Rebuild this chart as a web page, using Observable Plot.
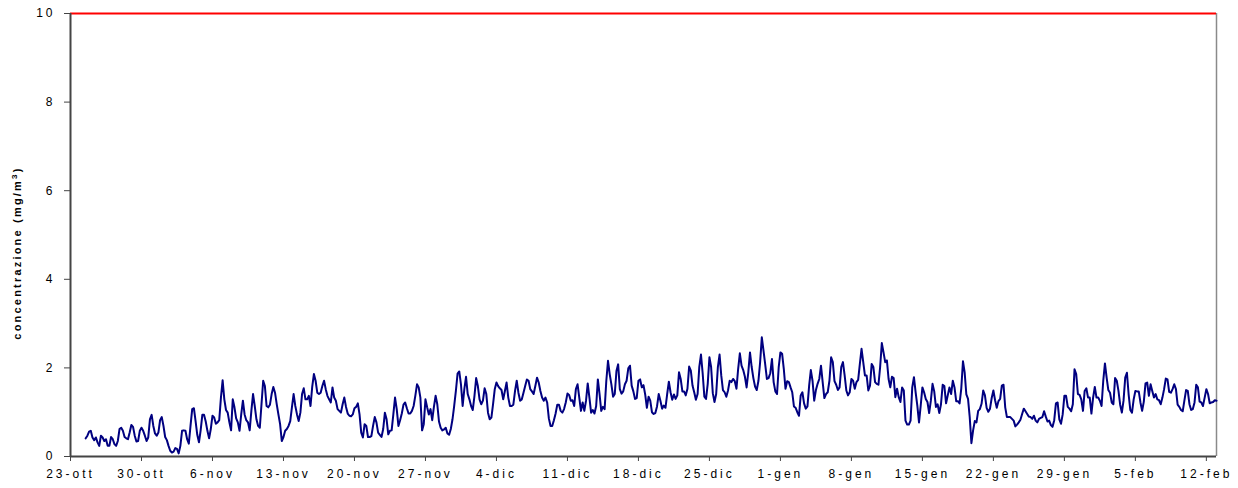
<!DOCTYPE html>
<html><head><meta charset="utf-8">
<script src="https://cdn.jsdelivr.net/npm/d3@7"></script>
<script src="https://cdn.jsdelivr.net/npm/@observablehq/plot@0.6"></script>
<style>
html,body{margin:0;padding:0;background:#fff;overflow:hidden;}
#chart svg{display:block;}
#chart svg text{letter-spacing:3px;}
</style>
</head><body><div id="chart"></div>
<script>
// ---- tick labels / axis values ----
const tickLabels = ["23-ott","30-ott","6-nov","13-nov","20-nov","27-nov","4-dic","11-dic","18-dic","25-dic","1-gen","8-gen","15-gen","22-gen","29-gen","5-feb","12-feb"];
const yTicks = [0, 2, 4, 6, 8, 10];
const limitValue = 10;           // red limit line (mg/m3)
const axisStartDate = "2006-10-23T00:00Z";
const axisEndDate = "2007-02-13T00:00Z";
const seriesStartDate = "2006-10-24T12:00Z";
const stepHours = 4;

// ---- concentration series, 4-hourly (mg/m3) ----
const concOtt = [0.41,0.47,0.56,0.58,0.43,0.37,0.43,0.32,0.24,0.47,
0.43,0.35,0.39,0.24,0.24,0.44,0.39,0.28,0.24,0.35,
0.62,0.65,0.58,0.44,0.41,0.39,0.54,0.71,0.67,0.47,
0.34,0.35,0.58,0.65,0.58,0.47,0.35,0.43,0.84,0.94,
0.69,0.52,0.47,0.54,0.82,0.89,0.69,0.44,0.37,0.24,
0.13,0.09,0.11,0.19,0.17,0.07,0.24,0.58,0.59,0.58,
0.39,0.29,0.69,1.07,1.09,0.80,0.49,0.32,0.59,0.94,
0.94,0.79,0.58,0.41];
const concNov1 = [0.62,0.92,0.88,0.74,0.77,0.82,1.33,1.72,1.29,1.05,
0.99,0.77,0.59,1.29,1.11,0.86,0.77,0.58,0.95,1.26,
0.95,0.82,0.77,0.59,1.03,1.41,1.14,0.84,0.69,0.65,
1.18,1.71,1.59,1.14,1.11,1.17,1.41,1.57,1.44,1.18,
0.95,0.73,0.35,0.44,0.58,0.62,0.69,0.80,1.11,1.41,
1.14,0.95,0.80,0.99,1.41,1.54,1.29,1.29,1.37,1.14,
1.57,1.86,1.71,1.44,1.41,1.44,1.59,1.71,1.52,1.37,
1.29,1.22,1.56,1.33,1.26,1.07,1.03,0.99,1.18,1.33,
1.12,0.97,0.92];
const concNov2 = [0.91,0.95,1.09,1.12,1.20,0.95,0.54,0.43,0.73,0.69,
0.44,0.44,0.46,0.69,0.89,0.77,0.54,0.49,0.44,0.62,
0.99,0.84,0.50,0.58,0.59,0.95,1.33,1.07,0.69,0.82,
0.97,1.17,1.22,1.09,0.97,0.97,1.03,1.14,1.37,1.63,
1.56,1.33,0.59,0.73,1.29,1.11,0.95,1.07,0.82,1.12,
1.37,1.18,0.79,0.65,0.59,0.61,0.65,0.52,0.49,0.62,
0.84,1.14,1.48,1.87,1.92,1.63,1.14,1.52,1.80,1.41,
1.29,1.14,1.05,1.37,1.77,1.59,1.29,1.18,1.26,1.54,
1.41,0.99,0.84];
const concDic1 = [0.88,1.18,1.52,1.67,1.59,1.54,1.50,1.29,1.48,1.67,
1.33,1.14,1.14,1.17,1.48,1.71,1.44,1.26,1.29,1.44,
1.59,1.74,1.71,1.52,1.47,1.41,1.59,1.78,1.67,1.48,
1.33,1.26,1.33,1.22,0.86,0.69,0.69,0.82,0.97,1.17,
1.17,1.03,0.99,1.07,1.22,1.42,1.39,1.26,1.27,1.14,
1.52,1.63,1.33,1.03,1.22,1.03,1.26,1.65,1.33,0.99,
1.05,0.97,1.14,1.74,1.41,1.03,1.12,1.07,1.71,2.16,
1.86,1.63,1.35,1.41,1.93,2.08,1.52,1.42,1.47,1.63,
1.71,1.99,2.05];
const concDic2 = [1.60,1.47,1.30,1.32,1.71,1.74,1.56,1.61,1.40,1.10,
1.35,1.26,1.00,0.96,0.98,1.13,1.41,1.26,1.08,1.15,
1.10,1.41,1.69,1.45,1.28,1.40,1.30,1.38,1.90,1.75,
1.47,1.47,1.38,1.53,2.03,1.94,1.60,1.45,1.28,1.41,
2.02,2.30,1.88,1.35,1.30,1.64,2.24,2.02,1.43,1.23,
1.41,2.02,2.30,1.83,1.50,1.45,1.35,1.49,1.71,1.68,
1.75,1.70,1.53,1.98,2.33,2.05,1.95,1.80,1.56,1.90,
2.35,2.02,1.77,1.58,1.50,1.71,2.13,2.69,2.39,2.08,
1.75,1.77,1.88];
const concGen1 = [2.20,1.68,1.47,1.41,2.02,2.35,2.32,1.98,1.53,1.70,
1.68,1.56,1.45,1.13,1.10,1.00,0.92,1.38,1.45,1.20,
1.08,1.13,1.60,1.95,1.71,1.26,1.50,1.64,1.75,2.05,
1.68,1.32,1.41,1.45,1.71,2.24,2.13,1.70,1.62,1.50,
1.56,2.02,2.13,1.83,1.49,1.38,1.45,1.75,1.71,1.53,
1.68,1.73,2.09,2.43,2.13,1.83,1.83,1.49,1.60,2.09,
2.02,1.68,1.64,1.62,2.02,2.56,2.35,2.13,2.17,1.75,
1.56,1.80,1.77,1.34,1.53,1.34,1.23,1.56,1.49,0.81,
0.72,0.72,0.81];
const concGen2 = [1.56,1.79,1.45,1.15,0.77,1.15,1.56,1.45,1.30,1.23,
0.98,1.26,1.64,1.47,1.12,1.18,0.98,1.18,1.62,1.59,
1.20,1.38,1.56,1.41,1.71,1.56,1.25,1.25,1.20,1.53,
2.15,1.90,1.40,1.30,0.89,0.30,0.59,0.80,0.77,1.03,
1.07,1.19,1.49,1.38,1.10,1.01,1.08,1.32,1.49,1.27,
1.10,1.25,1.30,1.60,1.62,1.11,0.89,0.89,0.89,0.85,
0.81,0.68,0.72,0.77,0.83,0.96,1.08,1.02,0.96,0.90,
0.89,0.85,0.92,0.81,0.77,0.85,0.87,0.89,1.02,0.90,
0.79,0.81];
const concFeb = [0.71,0.67,0.82,1.20,1.22,0.84,0.74,0.95,1.37,1.37,
1.12,1.08,1.02,1.18,1.97,1.86,1.41,1.39,1.29,1.03,
1.48,1.54,1.33,1.33,0.97,1.33,1.57,1.33,1.33,1.26,
1.14,1.71,2.10,1.78,1.50,1.44,1.22,1.18,1.77,1.71,
1.48,1.17,0.99,1.26,1.78,1.89,1.41,1.05,0.99,1.29,
1.48,1.47,1.47,1.22,1.03,1.24,1.65,1.67,1.37,1.63,
1.48,1.33,1.41,1.29,1.27,1.18,1.33,1.52,1.76,1.74,
1.46,1.44,1.52,1.63,1.52,1.17,1.12,1.05,1.02,1.26,
1.50,1.48,1.18,1.05,1.07,1.22,1.62,1.56,1.24,1.22,
1.14,1.33,1.52,1.41,1.20,1.22,1.23,1.27,1.26];

const values = [].concat(concOtt, concNov1, concNov2, concDic1, concDic2, concGen1, concGen2, concFeb);
const t0 = new Date(seriesStartDate);
const data = values.map((v, i) => ({t: new Date(+t0 + i * stepHours * 3600e3), v}));
const axisStart = new Date(axisStartDate);
const axisEnd = new Date(axisEndDate);
const tickDates = tickLabels.map((_, i) => d3.utcDay.offset(axisStart, 7 * i));
const week = 7 * 864e5;

const chart = Plot.plot({
  width: 1238,
  height: 488,
  marginLeft: 70,
  marginRight: 22,
  marginTop: 13,
  marginBottom: 32,
  style: {fontFamily: "'Liberation Sans', Arial, sans-serif", fontSize: "12px", background: "#fff", color: "#000"},
  x: {type: "utc", domain: [axisStart, axisEnd], ticks: tickDates,
      tickFormat: d => tickLabels[Math.round((d - axisStart) / week)], tickSize: 5, tickPadding: 8, label: null},
  y: {domain: [0, 10], ticks: yTicks, tickSize: 6, tickPadding: 9, label: null},
  marks: [
    Plot.ruleX([axisEnd], {stroke: "#8a8a8a", strokeWidth: 1.5}),
    Plot.line(data, {x: "t", y: "v", stroke: "#000080", strokeWidth: 2}),
    Plot.ruleY([limitValue], {stroke: "#ff0000", strokeWidth: 2}),
    Plot.ruleY([0], {stroke: "#444", strokeWidth: 2}),
    Plot.ruleX([axisStart], {stroke: "#444", strokeWidth: 2})
  ]
});

const svg = d3.select(chart);
svg.selectAll("g[aria-label$='tick'] path").attr("stroke", "#444");
const lab = svg.append("text")
  .attr("transform", "translate(21,253) rotate(-90)")
  .attr("text-anchor", "middle")
  .style("font-weight", "bold")
  .style("font-size", "11px")
  .style("letter-spacing", "2.2px");
lab.append("tspan").text("concentrazione (mg/m");
lab.append("tspan").attr("dy", "-4").style("font-size", "8px").text("3");
lab.append("tspan").attr("dy", "4").text(")");

document.getElementById("chart").appendChild(chart);
</script>
</body></html>
